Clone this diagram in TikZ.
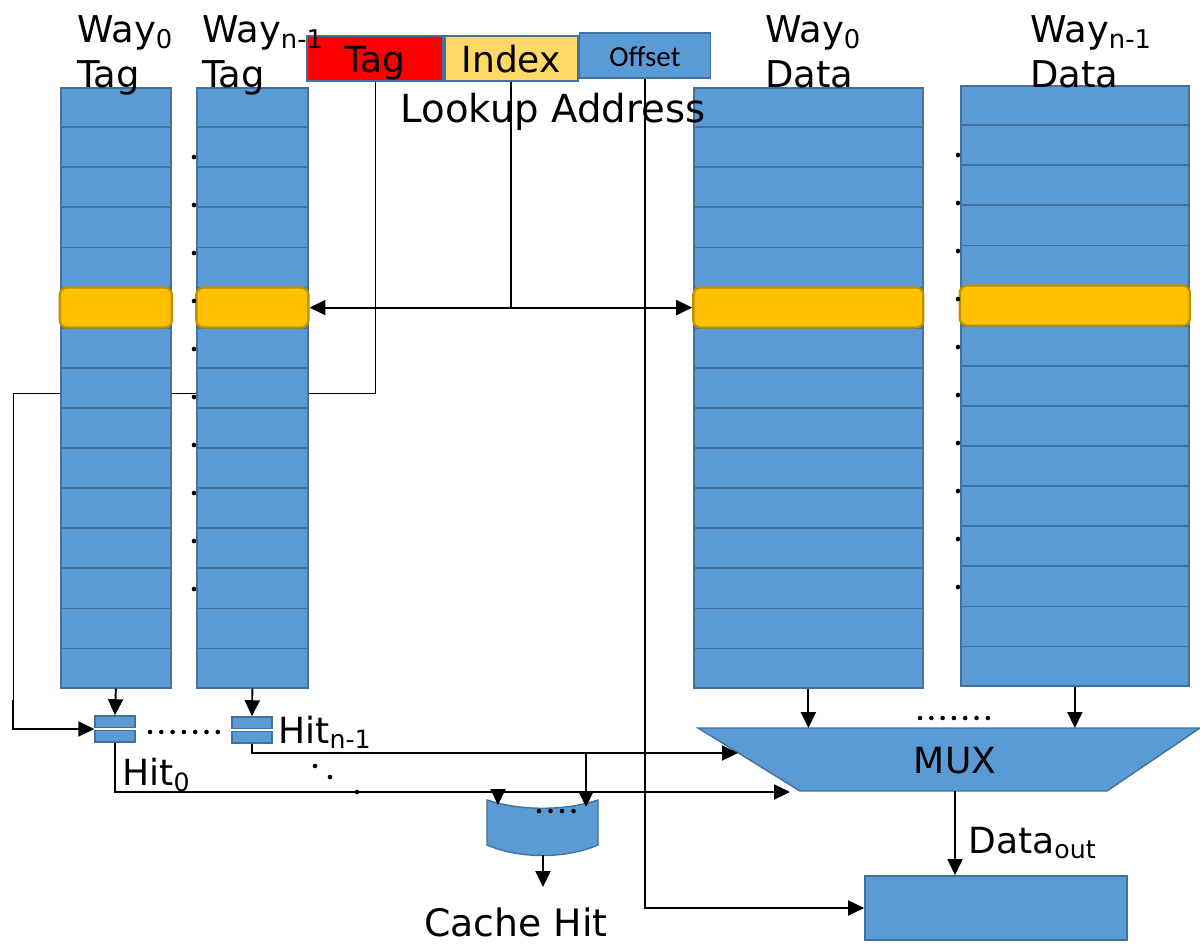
\documentclass[tikz,border=0pt]{standalone}
\usepackage{fontspec}
\setmainfont{DejaVu Sans}
\newfontfamily\offsetfont{Carlito}
\usetikzlibrary{arrows.meta,calc,backgrounds,positioning}
\definecolor{cellblue}{HTML}{5B9BD5}
\definecolor{celledge}{HTML}{41719C}
\definecolor{rowgold}{HTML}{FFC000}
\definecolor{goldedge}{HTML}{BF9000}
\definecolor{idxyellow}{HTML}{FFD966}
\tikzset{
  waycol/.style={draw=celledge, line width=1pt, fill=cellblue, anchor=north west, inner sep=0pt, minimum height=12cm},
  hitrow/.style={draw=goldedge, line width=1.3pt, fill=rowgold, rounded corners=4pt, inner sep=0pt, minimum height=0.8cm},
  field/.style={draw=celledge, line width=1pt, inner sep=0pt, minimum height=0.9cm, text height=18pt, text depth=2pt},
  cmpbar/.style={draw=celledge, line width=0.8pt, fill=cellblue, inner sep=0pt, minimum width=0.8cm, minimum height=0.23cm},
  wire/.style={line width=1.1pt},
  thinwire/.style={line width=0.55pt},
  tip/.tip={Triangle[length=0.32cm,width=0.3cm]},
  arr/.style={wire, -tip},
  lbl/.style={inner sep=0pt, font=\fontsize{20.5}{24}\selectfont},
  head/.style={inner sep=0pt, align=left, anchor=north west, font=\fontsize{21}{25.5}\selectfont},
}
\begin{document}
\begin{tikzpicture}[x=0.02cm, y=-0.02cm]
\useasboundingbox (0,0) rectangle (1200,944);

\node[waycol, minimum width=2.2cm] (tag0) at (60,87) {};
\node[waycol, minimum width=2.22cm] (tagn) at (196,87) {};
\node[waycol, minimum width=4.58cm] (data0) at (693,87) {};
\node[waycol, minimum width=4.56cm] (datan) at (960,85) {};
\foreach \c in {tag0,tagn,data0,datan}
  \foreach \i in {1,...,14}
    \draw[celledge, line width=1pt] ($(\c.north west)!{\i/15}!(\c.south west)$) -- ($(\c.north east)!{\i/15}!(\c.south east)$);
\foreach \c/\h/\w in {tag0/hl0/2.24cm, tagn/hln/2.24cm, data0/hld0/4.6cm, datan/hldn/4.6cm}
  \node[hitrow, minimum width=\w] (\h) at ($(\c.north)!{5.5/15}!(\c.south)$) {};
\foreach \c in {tagn,datan}
  \foreach \i in {0,...,9}
    \fill (\c.north west) ++(-2,70+48*\i) circle (1.3pt);

\node[field, fill=red, minimum width=2.72cm, lbl] (tag) at (375,58.5) {Tag};
\node[field, fill=idxyellow, minimum width=2.66cm, right=0pt of tag, lbl] (index) {Index};
\node[field, fill=cellblue, minimum width=2.62cm, right=0pt of index, yshift=1.5, text height=16pt, text depth=4pt, font=\fontsize{16.5}{20}\offsetfont] (offset) {Offset};
\node[lbl, font=\fontsize{22}{26}\selectfont] (lookup) at (553,112) {Lookup Address};

\node[head] (w0tag) at (77,15) {Way\textsubscript{0}\\Tag};
\node[head] (wntag) at (202,15) {Way\textsubscript{n-1}\\Tag};
\node[head] (w0data) at (765,15) {Way\textsubscript{0}\\Data};
\node[head] (wndata) at (1030,15) {Way\textsubscript{n-1}\\Data};

\coordinate (cmp0) at (115,729);
\node[cmpbar, above=0.5pt of cmp0] (cmp0a) {};
\node[cmpbar, below=0.5pt of cmp0] (cmp0b) {};
\coordinate (cmpn) at (252,730);
\node[cmpbar, above=0.5pt of cmpn] (cmpna) {};
\node[cmpbar, below=0.5pt of cmpn] (cmpnb) {};
\draw[arr] (tag0.south) -- (cmp0a.north);
\draw[arr] (tagn.south) -- (cmpna.north);
\foreach \i in {0,...,6}
  \fill (150+11.3*\i,732) circle (1.3pt);

\coordinate (cmpfeed) at (13,700);
\begin{scope}[on background layer]
\draw[thinwire] (tag.south) |- (13,393) -- (cmpfeed);
\end{scope}
\draw[arr] (cmpfeed) |- (cmp0a.west |- cmp0);

\draw[wire] (index.south) -- (index.south |- hln.east);
\draw[wire, tip-tip] (hln.east) -- (hld0.west);

\draw[draw=celledge, line width=0.8pt, fill=cellblue] (698,728) coordinate (muxtl) -- (1200,728) -- (1107,791) -- (800,791) -- cycle;
\node[lbl] (mux) at (955,761) {MUX};
\coordinate (muxbot) at (955,791);
\draw[arr] (data0.south) -- (data0.south |- muxtl);
\draw[arr] (datan.south) -- (datan.south |- muxtl);
\foreach \i in {0,...,6}
  \fill (920+11.3*\i,718) circle (1.3pt);

\node[draw=celledge, line width=1pt, fill=cellblue, minimum width=5.24cm, minimum height=1.28cm, inner sep=0pt] (outbuf) at (996,908) {};
\draw[arr] (muxbot) -- (muxbot |- outbuf.north);
\node[lbl, anchor=base west] (dataout) at (968,853) {Data\textsubscript{out}};
\draw[arr] (offset.south) |- (outbuf.west);

\coordinate (hitn) at (738,753);
\coordinate (hit0) at (790,792);
\draw[arr] (cmpnb.south) |- (hitn);
\draw[arr] (cmp0b.south) |- (hit0);
\node[lbl, anchor=base west] (hitnlbl) at (278,743) {Hit\textsubscript{n-1}};
\node[lbl, anchor=base west] (hit0lbl) at (122,785) {Hit\textsubscript{0}};
\foreach \p in {(315,766),(330,777),(357,792)}
  \fill \p circle (1.3pt);

\draw[draw=celledge, line width=0.8pt, fill=cellblue] (487,800) .. controls (520,811) and (565,811) .. (598,800) -- (598,845) .. controls (565,859) and (520,859) .. (487,845) -- cycle;
\coordinate (orin0) at (498,805);
\coordinate (orinn) at (586,807);
\coordinate (orout) at (543,855);
\coordinate (orend) at (543,887);
\draw[arr] (orin0 |- hit0) -- (orin0);
\draw[arr] (orinn |- hitn) -- (orinn);
\foreach \i in {0,...,3}
  \fill (539+11.5*\i,811) circle (1.3pt);
\node[lbl, font=\fontsize{21.5}{25}\selectfont] (cachehit) at (516,922) {Cache Hit};
\draw[arr] (orout) -- (orend);
\end{tikzpicture}
\end{document}
